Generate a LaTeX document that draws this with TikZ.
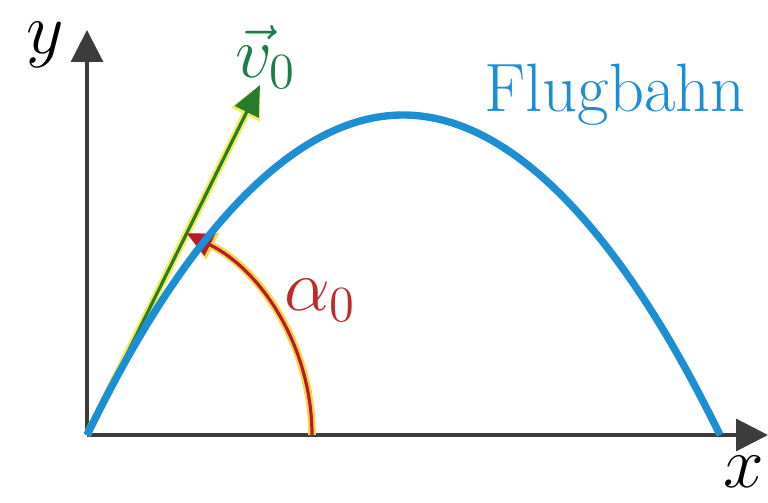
\documentclass[tikz,border=0pt]{standalone}
\usepackage{xcolor}
\usepackage{tikz}
\usetikzlibrary{positioning,arrows.meta}

\definecolor{bahnblau}{RGB}{28,142,212}
\definecolor{achsgrau}{RGB}{60,60,60}
\definecolor{vgruen}{RGB}{40,125,45}
\definecolor{wrot}{RGB}{185,25,45}
\definecolor{halo}{RGB}{245,235,90}

\begin{document}
\begin{tikzpicture}[
        axis/.style={draw=achsgrau, line width=0.9pt,
                     -{Triangle[length=3.2mm, width=3.2mm]}},
        bahn/.style={draw=bahnblau, line width=2.1pt},
        vec/.style={draw=vgruen, line width=0.9pt,
                    -{Triangle[length=3mm, width=2.6mm]},
                    preaction={draw=halo, line width=2.2pt,
                               -{Triangle[length=3.3mm, width=3mm]}}},
        winkel/.style={draw=wrot, line width=0.9pt,
                       -{Triangle[length=2.6mm, width=2.4mm]},
                       preaction={draw=halo!80!orange, line width=2.2pt,
                                  -{Triangle[length=2.9mm, width=2.8mm]}}},
        lbl/.style={font=\fontsize{19.5}{22}\selectfont, inner sep=0pt}
    ]
        \useasboundingbox (0,0) rectangle (7.68,5.02);

        \coordinate (O)    at (0.87,0.67);
        \coordinate (xend) at (7.68,0.67);
        \coordinate (yend) at (0.87,4.72);
        \coordinate (vtip) at (2.60,4.17);
        \coordinate (peak) at (4.03,3.87);
        \coordinate (land) at (7.20,0.67);

        \draw[axis] (O) -- (xend);
        \draw[axis] (O) -- (yend);

        % Anfangsgeschwindigkeit und Winkel
        \draw[vec] (O) -- (vtip);
        \draw[winkel] ([xshift=2.25cm]O) arc[start angle=0, end angle=63.7, radius=2.25cm];

        % Flugbahn
        \draw[bahn] (O) parabola bend (peak) (land);

        \node[lbl] (xlab) at (7.44,0.30) {$x$};
        \node[lbl] (ylab) at (0.45,4.57) {$y$};
        \node[lbl, text=vgruen!70!teal] (vlab) at (2.66,4.45) {$\vec{v}_0$};
        \node[lbl, text=wrot!85!orange] (alab) at (3.20,2.02) {$\alpha_0$};
        \node[lbl, text=bahnblau] (blab) at (6.15,4.07) {Flugbahn};
    \end{tikzpicture}
\end{document}
